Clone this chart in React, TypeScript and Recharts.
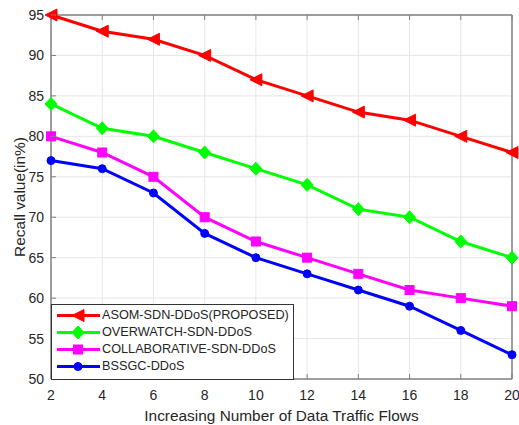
import React from 'react';
import { LineChart, Line, XAxis, YAxis, CartesianGrid, Legend, ReferenceLine } from 'recharts';

const flows = [2, 4, 6, 8, 10, 12, 14, 16, 18, 20];
const asom = [95, 93, 92, 90, 87, 85, 83, 82, 80, 78];
const overwatch = [84, 81, 80, 78, 76, 74, 71, 70, 67, 65];
const collaborative = [80, 78, 75, 70, 67, 65, 63, 61, 60, 59];
const bssgc = [77, 76, 73, 68, 65, 63, 61, 59, 56, 53];
const yTicks = [50, 55, 60, 65, 70, 75, 80, 85, 90, 95];
const xTitle = 'Increasing Number of Data Traffic Flows';
const yTitle = 'Recall value(in%)';

const series = [
  { key: 'asom', name: 'ASOM-SDN-DDoS(PROPOSED)', color: '#ff0000', shape: 'triangle' },
  { key: 'overwatch', name: 'OVERWATCH-SDN-DDoS', color: '#00ff00', shape: 'diamond' },
  { key: 'collaborative', name: 'COLLABORATIVE-SDN-DDoS', color: '#ff00ff', shape: 'square' },
  { key: 'bssgc', name: 'BSSGC-DDoS', color: '#0000ff', shape: 'circle' },
];

const data = flows.map((x, i) => ({
  x,
  asom: asom[i],
  overwatch: overwatch[i],
  collaborative: collaborative[i],
  bssgc: bssgc[i],
}));

const FONT = 'Liberation Sans, Arial, sans-serif';
const TEXT = '#262626';
const AXIS = '#808080';

function Marker({ shape, cx, cy, color }: { shape: string; cx: number; cy: number; color: string }) {
  if (shape === 'triangle') {
    return <polygon points={`${cx - 6},${cy} ${cx + 6},${cy - 6} ${cx + 6},${cy + 6}`} fill={color} stroke={color} strokeWidth={1} />;
  }
  if (shape === 'diamond') {
    return <polygon points={`${cx},${cy - 6.5} ${cx + 6},${cy} ${cx},${cy + 6.5} ${cx - 6},${cy}`} fill={color} stroke={color} strokeWidth={1} />;
  }
  if (shape === 'square') {
    return <rect x={cx - 4.5} y={cy - 4.5} width={9} height={9} fill={color} stroke={color} strokeWidth={1} />;
  }
  return <circle cx={cx} cy={cy} r={4} fill={color} stroke={color} strokeWidth={1} />;
}

const makeDot = (shape: string, color: string) => (props: any) => {
  const { cx, cy, index } = props;
  if (cx == null || cy == null) return <g key={`d${index}`} />;
  return (
    <g key={`d-${shape}-${index}`}>
      <Marker shape={shape} cx={cx} cy={cy} color={color} />
    </g>
  );
};

const XTick = (props: any) => {
  const { x, y, payload } = props;
  const ay = y - 2;
  return (
    <g>
      <line x1={x} x2={x} y1={ay} y2={ay - 5} stroke={AXIS} strokeWidth={1} />
      <text x={x} y={ay + 21} textAnchor="middle" fill={TEXT} fontSize={14} fontFamily={FONT}>
        {payload.value}
      </text>
    </g>
  );
};

const YTick = (props: any) => {
  const { x, y, payload } = props;
  const ax = x + 2;
  return (
    <g>
      <line x1={ax} x2={ax + 5} y1={y} y2={y} stroke={AXIS} strokeWidth={1} />
      <text x={ax - 7} y={y} dy="0.36em" textAnchor="end" fill={TEXT} fontSize={14} fontFamily={FONT}>
        {payload.value}
      </text>
    </g>
  );
};

const Empty = () => <g />;

const LegendBox = () => (
  <div
    style={{
      width: 241,
      height: 72,
      border: '1px solid #333333',
      background: '#ffffff',
      boxSizing: 'content-box',
      paddingTop: 2,
    }}
  >
    {series.map((s) => (
      <div key={s.key} style={{ display: 'flex', alignItems: 'center', height: 17, whiteSpace: 'nowrap' }}>
        <svg width={50} height={17} style={{ display: 'block' }}>
          <line x1={5} x2={48} y1={8.5} y2={8.5} stroke={s.color} strokeWidth={3} />
          <Marker shape={s.shape} cx={26} cy={8.5} color={s.color} />
        </svg>
        <span style={{ fontFamily: FONT, fontSize: 12.7, color: TEXT, lineHeight: '17px' }}>{s.name}</span>
      </div>
    ))}
  </div>
);

export default function App() {
  return (
    <div style={{ position: 'absolute', left: 0, top: 0, width: 519, height: 425, background: '#fff' }}>
      <LineChart width={519} height={425} data={data} margin={{ top: 15, right: 7, bottom: 0, left: 0 }}>
        <CartesianGrid stroke="#e6e6e6" strokeWidth={1} />
        <XAxis
          dataKey="x"
          type="number"
          domain={[2, 20]}
          ticks={flows}
          height={46}
          tickSize={0}
          tickMargin={2}
          tickLine={false}
          axisLine={{ stroke: AXIS, strokeWidth: 1.5 }}
          tick={<XTick />}
          interval={0}
          label={(p: any) => {
            const vb = p.viewBox || { x: 51, y: 379, width: 461, height: 46 };
            return (
              <text x={vb.x + vb.width / 2} y={vb.y + 36} dy="0.36em" textAnchor="middle" fill={TEXT} fontSize={15.4} fontFamily={FONT}>
                {xTitle}
              </text>
            );
          }}
        />
        <XAxis
          xAxisId="top"
          dataKey="x"
          type="number"
          orientation="top"
          mirror
          domain={[2, 20]}
          ticks={flows}
          tickSize={5}
          axisLine={{ stroke: AXIS, strokeWidth: 1.5 }}
          tickLine={{ stroke: AXIS }}
          tick={<Empty />}
          interval={0}
        />
        <YAxis
          type="number"
          domain={[50, 95]}
          ticks={yTicks}
          width={51}
          tickSize={0}
          tickMargin={2}
          tickLine={false}
          axisLine={{ stroke: AXIS, strokeWidth: 1.5 }}
          tick={<YTick />}
          interval={0}
          label={(p: any) => {
            const vb = p.viewBox || { x: 0, y: 15, width: 51, height: 364 };
            const cx = vb.x + 19;
            const cy = vb.y + vb.height / 2;
            return (
              <text x={cx} y={cy} dy="0.36em" textAnchor="middle" fill={TEXT} fontSize={15.4} fontFamily={FONT} transform={`rotate(-90 ${cx} ${cy})`}>
                {yTitle}
              </text>
            );
          }}
        />
        <YAxis
          yAxisId="right"
          type="number"
          orientation="right"
          mirror
          domain={[50, 95]}
          ticks={yTicks}
          tickSize={5}
          axisLine={{ stroke: AXIS, strokeWidth: 1.5 }}
          tickLine={{ stroke: AXIS }}
          tick={<Empty />}
          interval={0}
        />
        {series.map((s) => (
          <Line
            key={s.key}
            type="linear"
            dataKey={s.key}
            name={s.name}
            stroke={s.color}
            strokeWidth={3}
            dot={makeDot(s.shape, s.color)}
            activeDot={false}
            isAnimationActive={false}
          />
        ))}
        <Legend
          layout="vertical"
          align="center"
          verticalAlign="middle"
          content={() => <LegendBox />}
          wrapperStyle={{ position: 'absolute', left: 51, top: 304, width: 'auto', height: 'auto' }}
        />
      </LineChart>
    </div>
  );
}
